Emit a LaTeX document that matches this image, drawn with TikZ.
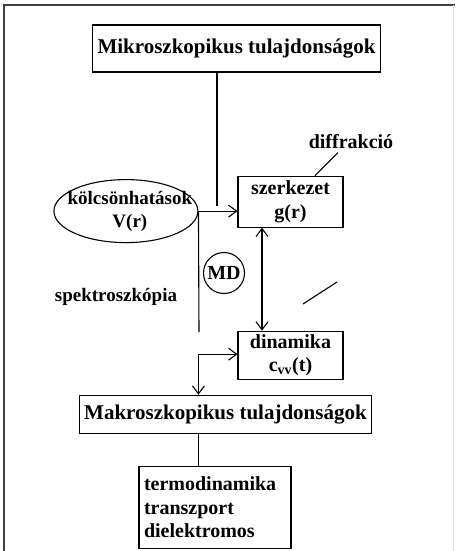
\documentclass[tikz,border=0pt]{standalone}
\usepackage{fontspec}
\setmainfont{Liberation Serif}
\usepackage{xcolor}
\usetikzlibrary{positioning, arrows.meta, shapes.geometric}

\begin{document}
\begin{tikzpicture}[
    x=1pt, y=-1pt,
    font=\fontsize{20}{23.5}\selectfont\bfseries,
    block/.style={rectangle, draw, line width=1.1pt, inner xsep=5pt, inner ysep=2pt, align=center},
    head/.style={block, font=\fontsize{21}{25}\selectfont\bfseries},
    small/.style={font=\fontsize{19}{23}\selectfont\bfseries},
    line/.style={line width=1.1pt},
    arr/.style={line, -{Straight Barb[length=8pt, width=12pt]}},
    dblarr/.style={line, {Straight Barb[length=8pt, width=12pt]}-{Straight Barb[length=8pt, width=12pt]}},
    frame/.style={line width=1.2pt, draw=black!75},
]
    \useasboundingbox (0,0) rectangle (455,551);
    % Frame
    \draw[frame] (4,551) -- (4,5) -- (455,5);
    \draw[gray!25] (453,5) -- (453,551);

    % Micro
    \node[head, minimum width=283pt, minimum height=47pt] (micro) at (236.5,48.5) {Mikroszkopikus tulajdonságok};

    % Structure and dynamics
    \node[block, minimum width=105pt, minimum height=51pt, below=103pt of micro, xshift=54pt] (szerkezet) {szerkezet\\g(r)};
    \node[block, minimum width=105pt, minimum height=48pt, below=103pt of szerkezet] (dinamika) {dinamika\\c\textsubscript{vv}(t)};
    \node (diffr) at (351,142) {diffrakció};

    % Interactions
    \node[ellipse, draw, line width=1.1pt, minimum width=144pt, minimum height=63pt, inner sep=0pt, left=39pt of szerkezet, yshift=-9.5pt] (inter) {};
    \node[small, align=center, inner sep=0pt, xshift=4pt] (interlbl) at (inter) {kölcsönhatások\\V(r)};

    % MD
    \node[circle, draw, line width=1.1pt, minimum size=41pt, inner sep=0pt] (md) at (224,273) {};
    \node[inner sep=0pt] (mdlbl) at (md) {MD};
    \node[small] (spek) at (116,297) {spektroszkópia};

    % Macro
    \node[head, minimum width=287pt, minimum height=38pt, below=15pt of dinamika, xshift=-65pt] (makro) {Makroszkopikus tulajdonságok};
    \node[block, text width=142pt, align=left, inner ysep=4pt, minimum height=82pt, below=32pt of makro, xshift=-10.5pt] (termo) {termodinamika\\transzport\\dielektromos};

    % Arrows
    \coordinate (drop) at (217,206);
    \coordinate (spekend) at (199,332);
    \draw[line] (micro.south -| drop) -- (drop);
    \draw[arr] (inter.east) -- (inter.east -| szerkezet.west);
    \draw[line] (inter.east) -- (spekend);
    \draw[line] ([xshift=24.5pt]szerkezet.north) -- ([xshift=-13pt]diffr.south);
    \draw[dblarr] ([xshift=-28.5pt]szerkezet.south) -- ([xshift=-28.5pt]dinamika.north);
    \draw[dblarr] ([yshift=1pt]dinamika.west) -| (inter.east |- makro.north);
    \draw[line] (inter.east |- makro.south) -- (inter.east |- termo.north);
    \draw[line] (303,304) -- (337,282);

\end{tikzpicture}
\end{document}
